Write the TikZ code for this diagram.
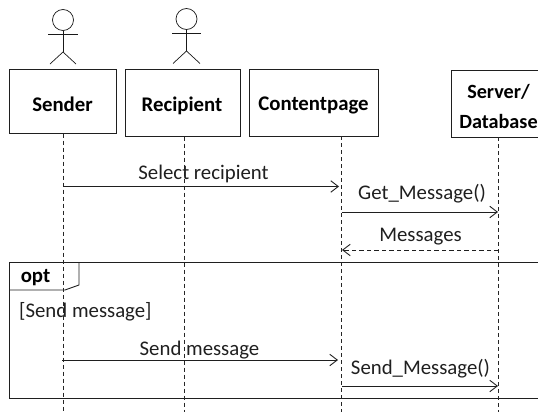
\documentclass[tikz,border=0pt]{standalone}
\usepackage{fontspec}
\setmainfont{Carlito}
\usetikzlibrary{arrows.meta}
\tikzset{
  x=1pt,y=-1pt,
  linecol/.style={draw=black!88,line width=0.9pt},
  headbox/.style={linecol,fill=white,inner sep=0pt,anchor=center},
  headtext/.style={inner sep=0pt,font=\fontsize{20.8}{25}\selectfont\bfseries},
  lifeline/.style={draw=black!85,line width=0.75pt,dash pattern=on 4pt off 3pt},
  msg/.style={linecol,-{Straight Barb[length=7.5pt,width=11.5pt,line width=0.9pt]}},
  reply/.style={msg,dash pattern=on 4.5pt off 3pt},
  msglabel/.style={inner sep=0pt,font=\fontsize{20.8}{25}\selectfont,text=black!88},
  actorline/.style={draw=black!90,line width=0.7pt},
}
\begin{document}
\begin{tikzpicture}
\useasboundingbox (0,0) rectangle (538,415);
% frame
\coordinate (fa) at (9.5,262.5);
\coordinate (fb) at (538,398.5);
\coordinate (fc) at (538,262.5);
\draw[linecol] (fc) -- (fa) |- (fb);
\coordinate (ta) at (9.5,290);
\coordinate (tb) at (65,290);
\coordinate (tc) at (79,285);
\coordinate (td) at (79,262.5);
\draw[linecol] (ta) -- (tb) -- (tc) -- (td);
% lifelines
\coordinate (sendEnd) at (63,412);
\coordinate (recEnd) at (184.5,412);
\coordinate (conEnd) at (341.5,412);
\coordinate (serEnd) at (498.5,412);
% boxes
\node[headbox,minimum width=107pt,minimum height=63.5pt] (sender) at (63,101.3) {};
\node[headbox,minimum width=115pt,minimum height=66.5pt] (recipient) at (182.5,103) {};
\node[headbox,minimum width=128.5pt,minimum height=66.5pt] (content) at (314,102.7) {};
\coordinate (sa) at (538,70);
\coordinate (sb) at (451.5,70);
\coordinate (sc) at (451.5,137);
\coordinate (sd) at (538,137);
\draw[linecol] (sa) -- (sb) -- (sc) -- (sd);
\node[headtext] (senderlabel) at (62.5,104) {Sender};
\node[headtext] (recipientlabel) at (182,106) {Recipient};
\node[headtext] (contentlabel) at (313.5,105.5) {Contentpage};
\node[inner sep=0pt,font=\fontsize{20.2}{30}\selectfont\bfseries,align=center] (serverlabel) at (498.5,106) {Server/\\Database};
\draw[lifeline] (sender.south -| sendEnd) -- (sendEnd);
\draw[lifeline] (recipient.south -| recEnd) -- (recEnd);
\draw[lifeline] (content.south -| conEnd) -- (conEnd);
\draw[lifeline] (sc -| serEnd) -- (serEnd);
% actors
\node[actorline,draw,circle,minimum size=21pt,inner sep=0pt] (h1) at (63,20) {};
\coordinate (n1) at (63,52);
\coordinate (a1l) at (48,34); \coordinate (a1r) at (78,34);
\coordinate (f1l) at (50,64); \coordinate (f1r) at (76,64);
\draw[actorline] (h1.south) -- (n1);
\draw[actorline] (a1l) -- (a1r);
\draw[actorline] (f1l) -- (n1) -- (f1r);
\node[actorline,draw,circle,minimum size=21pt,inner sep=0pt] (h2) at (186.5,19) {};
\coordinate (n2) at (186.5,51);
\coordinate (a2l) at (172,33); \coordinate (a2r) at (201,33);
\coordinate (f2l) at (173,63.5); \coordinate (f2r) at (200,63.5);
\draw[actorline] (h2.south) -- (n2);
\draw[actorline] (a2l) -- (a2r);
\draw[actorline] (f2l) -- (n2) -- (f2r);
% messages
\coordinate (m1a) at (63,186.5); \coordinate (m1b) at (339,186.5);
\coordinate (m2a) at (341.5,212); \coordinate (m2b) at (498,212);
\coordinate (m3a) at (498.5,250); \coordinate (m3b) at (342,250);
\coordinate (m4a) at (62,360); \coordinate (m4b) at (338,360);
\coordinate (m5a) at (342,386); \coordinate (m5b) at (498,386);
\draw[msg] (m1a) -- (m1b);
\draw[msg] (m2a) -- (m2b);
\draw[reply] (m3a) -- (m3b);
\draw[msg] (m4a) -- (m4b);
\draw[msg] (m5a) -- (m5b);
\node[msglabel] (l1) at (203.5,173.5) {Select recipient};
\node[msglabel] (l2) at (422,194) {Get\_Message()};
\node[msglabel] (l3) at (420.5,237) {Messages};
\node[msglabel] (l4) at (199.5,350.5) {Send message};
\node[msglabel] (l5) at (420.5,369) {Send\_Message()};
\node[msglabel,anchor=west] (l6) at (19,312) {[Send message]};
\node[headtext] (opt) at (35.5,278) {opt};
\end{tikzpicture}
\end{document}
